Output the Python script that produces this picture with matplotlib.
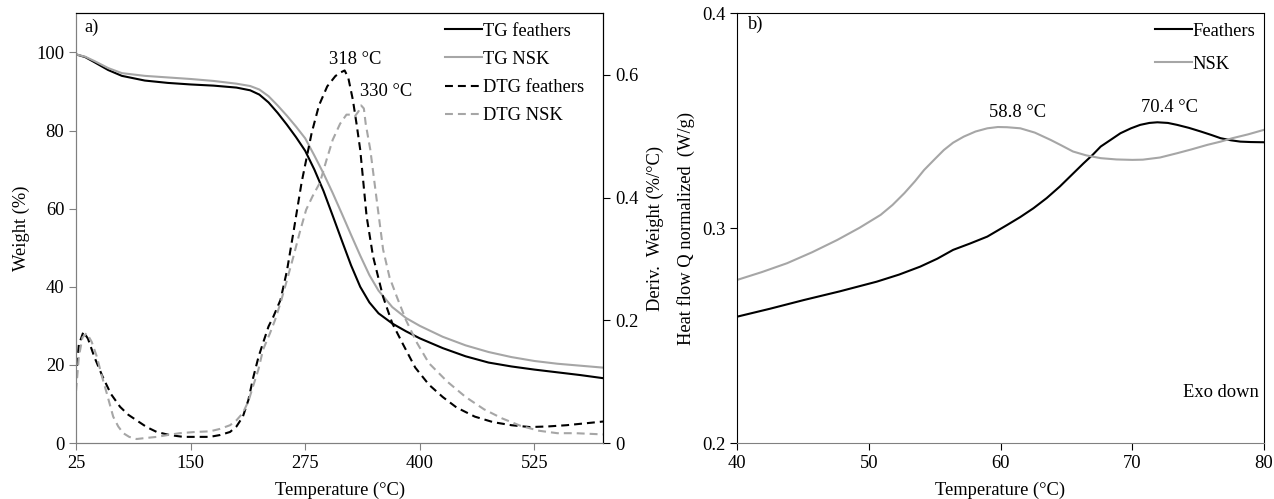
import matplotlib
matplotlib.use('Agg')
import matplotlib.pyplot as plt

plt.rcParams['font.family'] = ['Liberation Serif', 'DejaVu Serif']
plt.rcParams['font.size'] = 13.3

# TGA / DTG data (temperature in °C)
T_tg = [25, 35, 45, 60, 75, 100, 125, 150, 175, 200, 215, 225, 235, 245, 255, 265, 275, 285,
        295, 305, 315, 325, 335, 345, 355, 370, 385, 400, 425, 450, 475, 500, 525, 550, 575, 600]
tg_feathers = [99.5, 98.8, 97.5, 95.5, 94.0, 92.8, 92.2, 91.8, 91.5, 91.0, 90.3, 89.2, 87.2, 84.5,
               81.5, 78.3, 74.8, 70.0, 64.5, 58.2, 51.8, 45.5, 40.0, 36.0, 33.2, 30.6, 28.6, 26.8,
               24.3, 22.2, 20.6, 19.6, 18.8, 18.1, 17.4, 16.6]
tg_nsk = [99.5, 98.9, 97.8, 96.0, 94.7, 94.0, 93.6, 93.2, 92.7, 92.0, 91.4, 90.5, 88.8, 86.4,
          83.8, 81.0, 78.0, 73.6, 69.0, 64.0, 58.7, 53.3, 48.0, 43.0, 39.0, 34.8, 32.0, 30.0,
          27.2, 25.0, 23.3, 22.0, 21.0, 20.3, 19.8, 19.3]

T_dtg_f = [25, 28, 33, 38, 45, 54, 63, 73, 82, 91, 102, 113, 127, 142, 157, 171, 182, 193, 200,
           207, 213, 218, 224, 229, 235, 240, 248, 255, 262, 271, 282, 290, 299, 308, 314, 318,
           322, 327, 331, 335, 342, 349, 360, 370, 382, 395, 410, 425, 440, 460, 480, 500, 520,
           540, 560, 580, 600]
dtg_feathers = [0.105, 0.16, 0.181, 0.17, 0.14, 0.108, 0.08, 0.059, 0.046, 0.037, 0.026, 0.018,
                0.013, 0.010, 0.010, 0.010, 0.013, 0.018, 0.027, 0.043, 0.07, 0.105, 0.14,
                0.163, 0.19, 0.205, 0.233, 0.28, 0.342, 0.424, 0.505, 0.55, 0.581, 0.598, 0.604,
                0.607, 0.595, 0.559, 0.52, 0.478, 0.369, 0.304, 0.238, 0.195, 0.16, 0.123, 0.095,
                0.075, 0.058, 0.043, 0.034, 0.029, 0.026, 0.027, 0.029, 0.032, 0.035]

T_dtg_n = [25, 28, 32, 36.6, 42, 47.6, 53, 58.5, 65.5, 71, 76.5, 83, 91, 100, 113, 125, 138, 155,
           171, 182, 193, 200, 207, 213, 218, 224, 229, 236.6, 242, 248, 255, 262, 269, 276, 283,
           291, 298, 305, 313, 320, 325, 329, 333, 336, 339, 341, 346, 353, 360, 367, 375, 385,
           397, 410, 430, 450, 470, 490, 510, 530, 550, 570, 600]
dtg_nsk = [0.085, 0.14, 0.172, 0.179, 0.165, 0.141, 0.11, 0.081, 0.043, 0.027, 0.016, 0.01,
           0.0065, 0.008, 0.010, 0.013, 0.016, 0.018, 0.019, 0.023, 0.029, 0.037, 0.049, 0.068,
           0.092, 0.12, 0.152, 0.179, 0.2, 0.228, 0.265, 0.303, 0.343, 0.38, 0.402, 0.424, 0.46,
           0.494, 0.52, 0.535, 0.535, 0.532, 0.54, 0.55, 0.545, 0.52, 0.478, 0.396, 0.315, 0.27,
           0.238, 0.2, 0.163, 0.13, 0.1, 0.075, 0.055, 0.04, 0.028, 0.02, 0.016, 0.016, 0.014]

# DSC data
T_dsc_f = [40, 42.5, 45.1, 47.8, 50.6, 52.3, 53.9, 55.2, 56.4, 57.7, 59, 60.5, 61.5, 62.5, 63.5,
           64.5, 65.4, 66.3, 67, 67.6, 68.4, 69.1, 69.9, 70.6, 71.3, 71.9, 72.7, 73.4, 74.3, 75.2,
           76, 76.7, 77.5, 78.2, 79, 80]
dsc_feathers = [0.2588, 0.2625, 0.2666, 0.2706, 0.2751, 0.2784, 0.2821, 0.2858, 0.2899, 0.2929,
                0.2961, 0.3015, 0.3052, 0.3093, 0.314, 0.3194, 0.3248, 0.3302, 0.3342, 0.338,
                0.3413, 0.3442, 0.3465, 0.3481, 0.349, 0.3493, 0.349, 0.3481, 0.3467, 0.345,
                0.3434, 0.3419, 0.3409, 0.3403, 0.3401, 0.34]
T_dsc_n = [40, 41.9, 43.8, 45.7, 47.6, 49.3, 50.9, 51.8, 52.7, 53.5, 54.2, 55, 55.7, 56.4, 57.2,
           58.1, 59, 59.8, 60.5, 61.5, 62.6, 63.8, 64.6, 65.5, 66.5, 67.6, 68.8, 70, 70.8, 72.1,
           73.4, 74.5, 75.7, 76.7, 77.6, 78.8, 80]
dsc_nsk = [0.2759, 0.2796, 0.2837, 0.2888, 0.2945, 0.3002, 0.3062, 0.3108, 0.3163, 0.3218,
           0.3271, 0.3321, 0.3364, 0.3398, 0.3426, 0.345, 0.3465, 0.3471, 0.347, 0.3465, 0.3445,
           0.3411, 0.3386, 0.3357, 0.3339, 0.3326, 0.332, 0.3318, 0.3319, 0.3329, 0.3349,
           0.3367, 0.3388, 0.3403, 0.3419, 0.3437, 0.3458]

gray = '#a6a6a6'
spine_gray = '#808080'
dash = (0, (3.8, 2.4))

fig = plt.figure(figsize=(12.74, 4.99), dpi=100)
ax1 = fig.add_axes([0.0597, 0.1122, 0.4137, 0.861])
ax2 = ax1.twinx()
ax3 = fig.add_axes([0.5785, 0.1122, 0.4137, 0.861])

# ---- a) TG / DTG
l1, = ax1.plot(T_tg, tg_feathers, color='black', lw=1.5, label='TG feathers')
l2, = ax1.plot(T_tg, tg_nsk, color=gray, lw=1.5, label='TG NSK')
l3, = ax2.plot(T_dtg_f, dtg_feathers, color='black', lw=1.5, ls=dash, label='DTG feathers')
l4, = ax2.plot(T_dtg_n, dtg_nsk, color=gray, lw=1.5, ls=dash, label='DTG NSK')

ax1.set_xlim(25, 600)
ax1.set_ylim(0, 110)
ax2.set_ylim(0, 0.7)
ax1.set_xticks([25, 150, 275, 400, 525])
ax1.set_yticks([0, 20, 40, 60, 80, 100])
ax2.set_yticks([0, 0.2, 0.4, 0.6])
ax2.set_yticklabels(['0', '0.2', '0.4', '0.6'])

ax1.set_xlabel('Temperature (°C)')
ax1.set_ylabel('Weight (%)')
ax2.set_ylabel('Deriv.  Weight (%/°C)')
ax1.xaxis.set_label_coords(0.5, -0.09)
ax1.yaxis.set_label_coords(-0.088, 0.5)
ax2.yaxis.set_label_coords(1.083, 0.5)

ax1.text(34, 106.3, 'a)', va='center', ha='left')
ax1.text(329, 98.1, '318 °C', va='center', ha='center')
ax1.text(363, 89.9, '330 °C', va='center', ha='center')

ax2.legend(handles=[l1, l2, l3, l4], loc='upper left', bbox_to_anchor=(0.70, 0.978),
           frameon=False, handlelength=2.0, handletextpad=0.05, labelspacing=0.6,
           borderpad=0, borderaxespad=0)

for a in (ax1, ax2):
    a.spines['left'].set_color(spine_gray)
    a.spines['bottom'].set_color(spine_gray)
    a.spines['right'].set_color('black')
    a.spines['top'].set_color('black')
ax1.tick_params(direction='out', length=5, width=0.8, color=spine_gray)
ax2.tick_params(direction='out', length=5, width=0.8, color='black')

# ---- b) DSC
l5, = ax3.plot(T_dsc_f, dsc_feathers, color='black', lw=1.5, label='Feathers')
l6, = ax3.plot(T_dsc_n, dsc_nsk, color=gray, lw=1.5, label='NSK')

ax3.set_xlim(40, 80)
ax3.set_ylim(0.2, 0.4)
ax3.set_xticks([40, 50, 60, 70, 80])
ax3.set_yticks([0.2, 0.3, 0.4])
ax3.set_xlabel('Temperature (°C)')
ax3.set_ylabel('Heat flow Q normalized  (W/g)')
ax3.xaxis.set_label_coords(0.5, -0.09)
ax3.yaxis.set_label_coords(-0.080, 0.5)

ax3.text(40.8, 0.3947, 'b)', va='center', ha='left')
ax3.text(61.3, 0.3537, '58.8 °C', va='center', ha='center')
ax3.text(72.8, 0.356, '70.4 °C', va='center', ha='center')
ax3.text(79.6, 0.2233, 'Exo down', va='center', ha='right')

ax3.legend(handles=[l5, l6], loc='upper left', bbox_to_anchor=(0.793, 0.978),
           frameon=False, handlelength=2.0, handletextpad=0.05, labelspacing=0.85,
           borderpad=0, borderaxespad=0)

ax3.spines['bottom'].set_color(spine_gray)
ax3.tick_params(direction='out', length=5, width=0.8)

plt.savefig('out.png', dpi=100)
